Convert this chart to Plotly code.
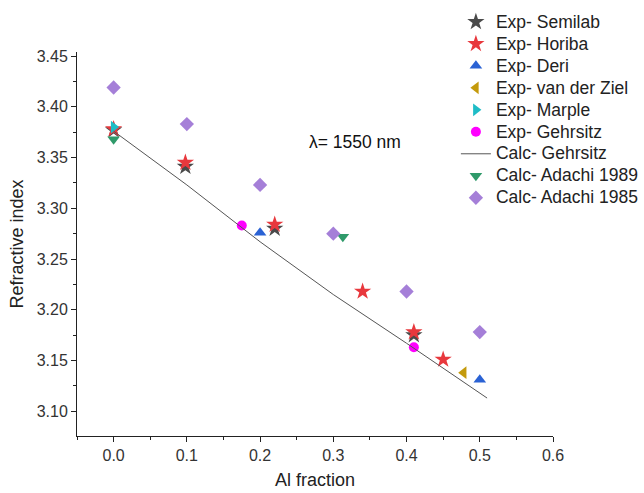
import plotly.graph_objects as go

# ---- data ----
semilab_x = [0.0, 0.098, 0.22, 0.41]
semilab_y = [3.377, 3.341, 3.280, 3.175]

horiba_x = [0.0, 0.098, 0.22, 0.34, 0.41, 0.45]
horiba_y = [3.378, 3.345, 3.284, 3.218, 3.178, 3.151]

deri_x = [0.2, 0.5]
deri_y = [3.276, 3.131]

vdz_x = [0.478]
vdz_y = [3.138]

marple_x = [0.0]
marple_y = [3.380]

gehr_exp_x = [0.175, 0.41]
gehr_exp_y = [3.283, 3.163]

gehr_calc_x = [0.0, 0.1, 0.2, 0.3, 0.4, 0.51]
gehr_calc_y = [3.376, 3.323, 3.267, 3.215, 3.167, 3.113]

adachi89_x = [0.0, 0.313]
adachi89_y = [3.368, 3.272]

adachi85_x = [0.0, 0.1, 0.2, 0.3, 0.4, 0.5]
adachi85_y = [3.419, 3.383, 3.323, 3.275, 3.218, 3.178]

x_ticks = [0.0, 0.1, 0.2, 0.3, 0.4, 0.5, 0.6]
y_ticks = [3.10, 3.15, 3.20, 3.25, 3.30, 3.35, 3.40, 3.45]

FONT = "Arial, Liberation Sans, sans-serif"

fig = go.Figure()

def lname(s):
    return '<span style="font-size:17.5px">' + s + '</span>'

def mk(x, y, name, symbol, color, size):
    fig.add_trace(go.Scatter(x=x, y=y, mode="markers", name=lname(name),
                             marker=dict(symbol=symbol, color=color, size=size,
                                         line=dict(width=0))))

mk(semilab_x, semilab_y, "Exp- Semilab", "star", "#4a4a4a", 13)
mk(horiba_x, horiba_y, "Exp- Horiba", "star", "#e8383d", 13)
mk(deri_x, deri_y, "Exp- Deri", "triangle-up", "#2a62d4", 11)
mk(vdz_x, vdz_y, "Exp- van der Ziel", "triangle-left", "#c49a0c", 11)
mk(marple_x, marple_y, "Exp- Marple", "triangle-right", "#1ebcc6", 11)
mk(gehr_exp_x, gehr_exp_y, "Exp- Gehrsitz", "circle", "#ff00ff", 10)
fig.add_trace(go.Scatter(x=gehr_calc_x, y=gehr_calc_y, mode="lines", name=lname("Calc- Gehrsitz"),
                         line=dict(color="#555555", width=1)))
mk(adachi89_x, adachi89_y, "Calc- Adachi 1989", "triangle-down", "#2f9a6a", 11)
mk(adachi85_x, adachi85_y, "Calc- Adachi 1985", "diamond", "#a57fd8", 11)

fig.add_annotation(x=0.329, y=3.365, xref="x", yref="y", text="λ= 1550 nm",
                   showarrow=False, font=dict(size=17.5, color="#111111", family=FONT))

fig.update_layout(
    width=644, height=493,
    margin=dict(l=77, r=91, t=52, b=57, autoexpand=False),
    plot_bgcolor="white", paper_bgcolor="white",
    font=dict(family=FONT, color="#222222"),
    showlegend=True,
    legend=dict(x=0.796, y=1.12, xanchor="left", yanchor="top",
                font=dict(size=14.6, color="#222222", family=FONT),
                bgcolor="rgba(0,0,0,0)", tracegroupgap=0, itemwidth=30),
    xaxis=dict(range=[-0.05, 0.6], tickvals=x_ticks, tickformat=".1f",
               showgrid=False, zeroline=False, showline=True, linecolor="#222222",
               linewidth=1, ticks="outside", ticklen=5, tickcolor="#222222",
               tickfont=dict(size=16, color="#333333"), automargin=False,
               minor=dict(ticks="outside", ticklen=3, dtick=0.05, tick0=0, tickcolor="#222222", showgrid=False),
               title=dict(text="Al fraction", font=dict(size=18, color="#222222"), standoff=10)),
    yaxis=dict(range=[3.0756, 3.454], tickvals=y_ticks, tickformat=".2f",
               showgrid=False, zeroline=False, showline=True, linecolor="#222222",
               linewidth=1, ticks="outside", ticklen=5, tickcolor="#222222",
               tickfont=dict(size=16, color="#333333"), automargin=False,
               minor=dict(ticks="outside", ticklen=3, dtick=0.025, tick0=3.1, tickcolor="#222222", showgrid=False),
               title=dict(text="Refractive index", font=dict(size=18, color="#222222"), standoff=8)),
)

fig.write_html("out.html", config={"displayModeBar": False},
               post_script="document.body.style.margin='0';")
